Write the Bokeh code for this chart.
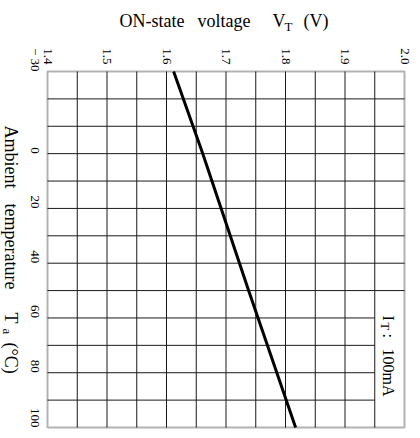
import math
from bokeh.plotting import figure
from bokeh.models import Range1d, FixedTicker, BoxAnnotation, Label, LinearAxis
from bokeh.embed import file_html
from bokeh.resources import INLINE

# ---- data ----
temp_c = [-30, 0, 50, 100]
vt_v = [1.612, 1.661, 1.738, 1.817]

x_ticks = [1.4, 1.5, 1.6, 1.7, 1.8, 1.9, 2.0]
x_tick_labels = ["1.4", "1.5", "1.6", "1.7", "1.8", "1.9", "2.0"]
y_ticks = [-30, 0, 20, 40, 60, 80, 100]
y_tick_labels = ["\u2212 30", "0", "20", "40", "60", "80", "100"]
x_grid = [1.45, 1.5, 1.55, 1.6, 1.65, 1.7, 1.75, 1.8, 1.85, 1.9, 1.95]
y_grid = [-20, -10, 0, 10, 20, 30, 40, 50, 60, 70, 80, 90]
x_lim = [1.4, 2.0]
y_lim = [-30, 100]
box_x = [1.95, 2.0]      # condition-text cell
box_y = [50, 100]
legend_text = "100mA"

FONT = "Liberation Serif"
W, H = 420, 438
# chart box in canvas pixels
L, T, R, B = 47, 71, 404, 427

kx = (R - L) / (x_lim[1] - x_lim[0])
ky = (B - T) / (y_lim[1] - y_lim[0])
xr = Range1d(x_lim[0] - L / kx, x_lim[1] + (W - R) / kx)
yr = Range1d(y_lim[1] + (H - B) / ky, y_lim[0] - T / ky)

p = figure(width=W, height=H, output_backend="svg", toolbar_location=None,
           x_range=xr, y_range=yr, x_axis_location=None, y_axis_location=None,
           min_border=0, background_fill_color="white", border_fill_color="white")
p.outline_line_color = None
p.xgrid.visible = False
p.ygrid.visible = False

xa = LinearAxis(fixed_location=y_lim[0])
ya = LinearAxis(fixed_location=x_lim[0])
p.add_layout(xa, "above")
p.add_layout(ya, "left")

for ax, ticks, labels, so in ((xa, x_ticks, x_tick_labels, 7), (ya, y_ticks, y_tick_labels, 12)):
    ax.ticker = FixedTicker(ticks=ticks)
    ax.major_label_overrides = {t: s for t, s in zip(ticks, labels)}
    ax.major_label_orientation = -math.pi / 2
    ax.major_tick_line_color = None
    ax.minor_tick_line_color = None
    ax.major_tick_in = 0
    ax.major_tick_out = 0
    ax.axis_line_color = None
    ax.major_label_text_font = FONT
    ax.major_label_text_font_size = "13px"
    ax.major_label_text_color = "black"
    ax.major_label_standoff = so

# grid lines
gcol = "#1a1a1a"
p.segment(x0=x_grid, x1=x_grid, y0=[y_lim[0]] * len(x_grid), y1=[y_lim[1]] * len(x_grid),
          line_color=gcol, line_width=1)
p.segment(x0=[x_lim[0]] * len(y_grid),
          x1=[box_x[0] if y > box_y[0] else x_lim[1] for y in y_grid],
          y0=y_grid, y1=y_grid, line_color=gcol, line_width=1)

p.line(vt_v, temp_c, line_color="black", line_width=3)

# chart frame
p.add_layout(BoxAnnotation(left=x_lim[0], right=x_lim[1], top=y_lim[0], bottom=y_lim[1],
                           fill_alpha=0, line_color="black", line_width=2))

def lab(text, cx, cy, size, angle=0.0):
    p.add_layout(Label(x=cx, y=H - cy, x_units="screen", y_units="screen",
                       text=text, text_font=FONT, text_font_size=f"{size}px",
                       text_color="black", text_align="left", text_baseline="alphabetic",
                       angle=angle))

# title: ON-state voltage V_T (V)
lab("ON-state", 119, 20, 18)
lab("voltage", 197, 20, 18)
lab("V", 272, 20, 18)
lab("T", 284, 26, 13)
lab("(V)", 303, 20, 18)

# left label: Ambient temperature T_a (°C), rotated clockwise
rot = -math.pi / 2
lab("Ambient", 10, 125, 18, rot)
lab("temperature", 10, 203, 18, rot)
lab("T", 10, 312, 18, rot)
lab("a", 7, 328, 13, rot)
lab("(\u00b0C)", 10, 342, 18, rot)

# condition text: I_T : 100mA
lab("I", 388, 315, 16, rot)
lab("T", 384, 322, 12, rot)
lab(":", 388, 333, 16, rot)
lab(legend_text, 388, 348, 16, rot)

open("out.html", "w").write(file_html(p, INLINE))
